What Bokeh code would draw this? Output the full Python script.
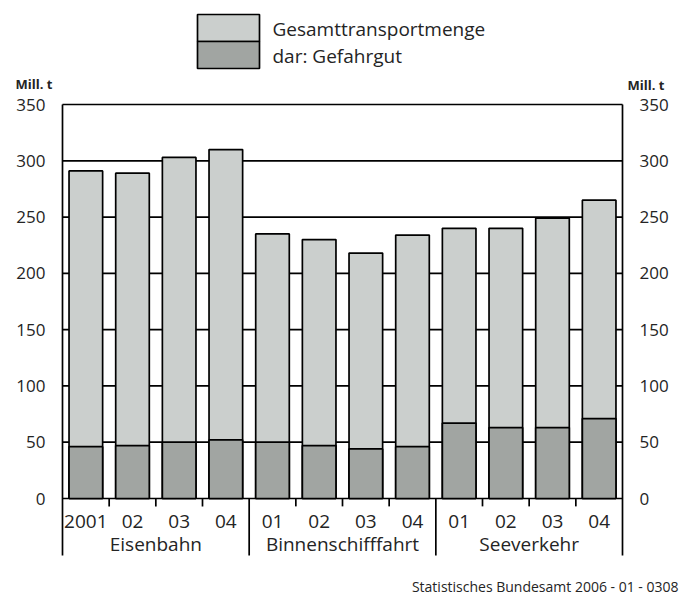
from bokeh.plotting import figure
from bokeh.models import Range1d, LinearAxis, FixedTicker, ColumnDataSource
from bokeh.core.properties import value
from bokeh.embed import file_html
from bokeh.resources import INLINE
import numpy as np

# ---------------- data ----------------
groups = ["Eisenbahn", "Binnenschifffahrt", "Seeverkehr"]
group_sizes = [4, 4, 4]
years = ["2001", "02", "03", "04", "01", "02", "03", "04", "01", "02", "03", "04"]
gesamt = [291, 289, 303, 310, 235, 230, 218, 234, 240, 240, 249, 265]
gefahrgut = [46, 47, 50, 52, 50, 47, 44, 46, 67, 63, 63, 71]
y_ticks = [0, 50, 100, 150, 200, 250, 300, 350]
series_names = ["Gesamttransportmenge", "dar: Gefahrgut"]
unit_label = "Mill. t"
source_note = "Statistisches Bundesamt 2006 - 01 - 0308"

# ---------------- style / layout ----------------
FONT = "Open Sans"
TXT = "#242424"
LIGHT = "#cbcfcd"
DARK = "#a1a5a2"
W, H = 681, 596
LW = 1.7

n = len(years)
PX_L, PX_R = 62, 622          # page x of the two value axes
PY0, PY350 = 498, 104         # page y of values 0 and 350
SX = (PX_R - PX_L) / n
SY = (PY0 - PY350) / 350


def X(px):
    return (px - PX_L) / SX


def Y(py):
    return (PY0 - py) / SY


xs = np.arange(n) + 0.5
bounds = np.cumsum([0] + group_sizes)
group_centers = [(bounds[i] + bounds[i + 1]) / 2 for i in range(len(groups))]
inner_ticks = [int(b) for i in range(len(groups)) for b in range(bounds[i] + 1, bounds[i + 1])]
group_seps = [int(b) for b in bounds[1:-1]]
axis_bottom = Y(555)

src = ColumnDataSource(dict(x=xs, gesamt=gesamt, gef=gefahrgut, year=years))

p = figure(width=W, height=H, x_range=Range1d(X(0), X(W)), y_range=Range1d(Y(H), Y(0)),
           output_backend="svg", toolbar_location=None, title=None,
           x_axis_location=None, y_axis_location=None, min_border=0)
p.outline_line_color = None
p.xgrid.visible = False
p.ygrid.visible = False

ticker = FixedTicker(ticks=y_ticks)
for side, loc in (("left", 0), ("right", n)):
    ax = LinearAxis(ticker=ticker, fixed_location=loc, bounds=(axis_bottom, max(y_ticks)))
    ax.axis_line_color = "black"
    ax.axis_line_width = LW
    ax.major_tick_in = 0
    ax.major_tick_out = 0
    ax.minor_tick_in = 0
    ax.minor_tick_out = 0
    ax.major_label_standoff = 17
    ax.major_label_text_font = FONT
    ax.major_label_text_font_size = "17px"
    ax.major_label_text_color = TXT
    p.add_layout(ax, side)

# horizontal value lines between the two axes (behind the bars)
p.segment(x0=0, y0=y_ticks, x1=n, y1=y_ticks, line_color="black", line_width=LW)

p.vbar(x="x", top="gesamt", bottom=0, width=0.72, source=src,
       fill_color=LIGHT, line_color="black", line_width=LW)
p.vbar(x="x", top="gef", bottom=0, width=0.72, source=src,
       fill_color=DARK, line_color="black", line_width=LW)

p.segment(x0=inner_ticks, y0=0, x1=inner_ticks, y1=-7, line_color="black", line_width=LW)
p.segment(x0=group_seps, y0=0, x1=group_seps, y1=axis_bottom, line_color="black", line_width=LW)

p.text(x="x", y=Y(520.5), text="year", source=src, text_align="center",
       text_baseline="middle", text_font=value(FONT), text_font_size="19px",
       text_color=TXT)
p.text(x=group_centers, y=Y(543.5), text=groups, text_align="center",
       text_baseline="middle", text_font=value(FONT), text_font_size="19px",
       text_color=TXT)

# unit labels above both axes
p.text(x=[X(15), X(627)], y=[Y(83.5), Y(84.5)], text=[unit_label, unit_label],
       text_align="left", text_baseline="middle", text_font=value(FONT),
       text_font_size="13px", text_font_style="bold", text_color=TXT)

# legend (two stacked swatches)
p.quad(left=X(197), right=X(259), top=[Y(14), Y(41)], bottom=[Y(41), Y(68)],
       fill_color=[LIGHT, DARK], line_color="black", line_width=LW)
p.text(x=X(272), y=[Y(28), Y(55.5)], text=series_names, text_align="left",
       text_baseline="middle", text_font=value(FONT), text_font_size="19px",
       text_color=TXT)

# source note
p.text(x=[X(678)], y=[Y(586)], text=[source_note], text_align="right",
       text_baseline="middle", text_font=value(FONT), text_font_size="14px",
       text_color=TXT)

open("out.html", "w").write(file_html(p, INLINE))
